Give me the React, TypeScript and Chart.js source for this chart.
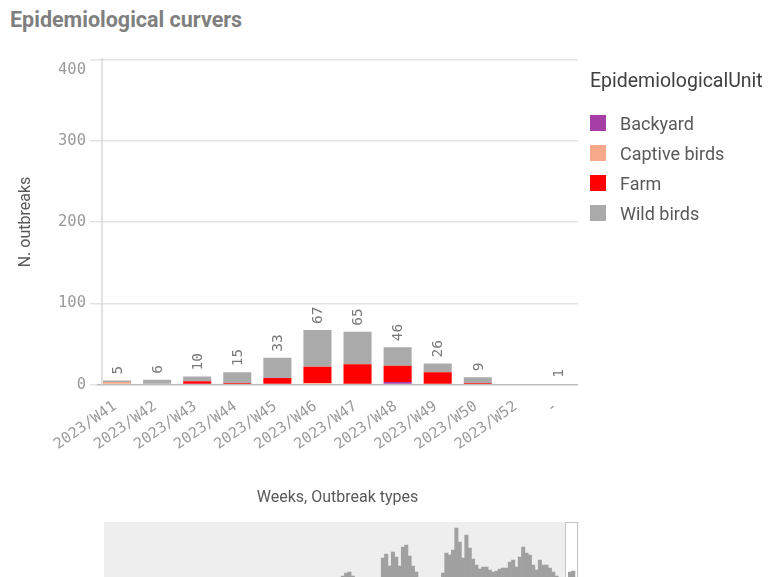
import React, { useEffect, useRef } from 'react';
import { Chart, registerables } from 'chart.js';

Chart.register(...registerables);

// ---- Main chart data ----
const weeks = ['2023/W41', '2023/W42', '2023/W43', '2023/W44', '2023/W45', '2023/W46', '2023/W47', '2023/W48', '2023/W49', '2023/W50', '2023/W52', '-'];
const seriesNames = ['Backyard', 'Captive birds', 'Farm', 'Wild birds'];
const seriesColors = ['#a53fa5', '#f8a88a', '#ff0000', '#aaaaaa'];
const backyard = [0, 0, 0, 0, 0, 1, 0, 3, 0, 0, 0, 0];
const captiveBirds = [3, 0, 0, 0, 0, 1, 1, 0, 0, 0, 0, 0];
const farm = [0, 1, 4, 2, 8, 20, 24, 20, 15, 2, 0, 1];
const wildBirds = [2, 5, 6, 13, 25, 45, 40, 23, 11, 7, 0, 0];
const seriesData = [backyard, captiveBirds, farm, wildBirds];
const yTickValues = [0, 100, 200, 300, 400];

// ---- Mini overview (scroll bar) data: bins of 3 weeks ----
const miniBinCount = 142;
const miniStartBin = 71;
const miniVisibleBins = 4;
const miniValues = [
  26, 29, 30, 26, 18, 15, 12, 14, 16, 15, 18, 22, 44, 48, 36, 50, 45, 36, 55, 57,
  46, 36, 30, 24, 20, 18, 17, 18, 20, 22, 29, 49, 47, 52, 74, 60, 44, 67, 54, 43,
  37, 33, 35, 35, 32, 30, 31, 33, 34, 34, 40, 42, 35, 45, 55, 49, 47, 37, 32, 42,
  37, 37, 34, 30, 26, 20, 18, 20, 30, 31, 22,
];

const MONO = '"DejaVu Sans Mono", monospace';
const SANS = 'Roboto, "Noto Sans", sans-serif';

const decorPlugin = {
  id: 'decor',
  afterDraw(chart: any) {
    const { ctx, chartArea } = chart;
    const y = chart.scales.y;
    ctx.save();
    // y axis line
    ctx.strokeStyle = '#d9d9d9';
    ctx.lineWidth = 1.5;
    ctx.beginPath();
    ctx.moveTo(chartArea.left + 5, chartArea.top - 1.5);
    ctx.lineTo(chartArea.left + 5, chartArea.bottom);
    ctx.stroke();
    // y tick labels
    ctx.font = `15.5px ${MONO}`;
    ctx.fillStyle = '#9a9a9a';
    ctx.textAlign = 'right';
    ctx.textBaseline = 'middle';
    const labelRight = y.right - 7 - 4;
    yTickValues.forEach((v) => {
      let py = y.getPixelForValue(v);
      if (v === y.max) py += 10;
      ctx.fillText(String(v), labelRight, py);
    });
    ctx.restore();
  },
  afterDatasetsDraw(chart: any) {
    const { ctx } = chart;
    const x = chart.scales.x;
    const y = chart.scales.y;
    ctx.save();
    ctx.font = `14.5px ${MONO}`;
    ctx.fillStyle = '#777777';
    ctx.textAlign = 'left';
    ctx.textBaseline = 'middle';
    weeks.forEach((_, i) => {
      const total = seriesData.reduce((s, arr) => s + arr[i], 0);
      if (!total) return;
      const px = x.getPixelForValue(i);
      const py = y.getPixelForValue(total);
      ctx.save();
      ctx.translate(px + 1, py - 6);
      ctx.rotate(-Math.PI / 2);
      ctx.fillText(String(total), 0, 0);
      ctx.restore();
    });
    ctx.restore();
  },
};

const miniBgPlugin = {
  id: 'miniBg',
  beforeDatasetsDraw(chart: any) {
    const { ctx, chartArea } = chart;
    const x = chart.scales.x;
    ctx.save();
    ctx.fillStyle = '#eeeeee';
    ctx.fillRect(chartArea.left, chartArea.top, chartArea.right - chartArea.left, chartArea.bottom - chartArea.top);
    const x0 = x.getPixelForValue(miniBinCount - miniVisibleBins);
    ctx.fillStyle = '#ffffff';
    ctx.fillRect(x0, chartArea.top, chartArea.right - x0, chartArea.bottom - chartArea.top);
    ctx.strokeStyle = '#c4c4c4';
    ctx.lineWidth = 1;
    ctx.strokeRect(Math.round(x0) + 0.5, chartArea.top + 0.5, Math.round(chartArea.right - x0) - 1, chartArea.bottom - chartArea.top + 10);
    ctx.restore();
  },
};

export default function App() {
  const mainRef = useRef<HTMLCanvasElement>(null);
  const miniRef = useRef<HTMLCanvasElement>(null);

  useEffect(() => {
    const main = new Chart(mainRef.current as HTMLCanvasElement, {
      type: 'bar',
      data: {
        labels: weeks,
        datasets: seriesNames.map((name, k) => ({
          label: name,
          data: seriesData[k],
          backgroundColor: seriesColors[k],
          borderWidth: 0,
          categoryPercentage: 0.7,
          barPercentage: 1,
        })),
      },
      options: {
        responsive: false,
        animation: false,
        layout: { padding: { left: 0, right: 205, top: 59.5, bottom: 0 } },
        plugins: { legend: { display: false }, tooltip: { enabled: false } },
        scales: {
          x: {
            stacked: true,
            grid: { display: false, drawTicks: false },
            border: { display: false },
            ticks: {
              autoSkip: false,
              minRotation: 35,
              maxRotation: 35,
              padding: 13,
              labelOffset: -2,
              color: '#9a9a9a',
              font: { family: MONO, size: 15 },
            },
            title: {
              display: true,
              text: 'Weeks, Outbreak types',
              color: '#595959',
              font: { family: SANS, size: 16 },
              padding: { top: 0, bottom: 2 },
            },
            afterFit: (s: any) => {
              s.height = 125.5;
            },
          },
          y: {
            stacked: true,
            min: 0,
            max: 400,
            ticks: { stepSize: 100, display: false },
            grid: {
              color: (c: any) => (c.tick && c.tick.value === 0 ? '#bdbdbd' : '#e3e3e3'),
              tickColor: '#e3e3e3',
              tickLength: 7,
              lineWidth: 1.5,
            },
            border: { display: false },
            title: {
              display: true,
              text: 'N. outbreaks',
              color: '#595959',
              font: { family: SANS, size: 16 },
              padding: { top: 16, bottom: 0 },
            },
            afterFit: (s: any) => {
              s.width = 97;
            },
          },
        },
      },
      plugins: [decorPlugin],
    } as any);

    const mini = new Chart(miniRef.current as HTMLCanvasElement, {
      type: 'bar',
      data: {
        datasets: [
          {
            data: miniValues.map((v, i) => ({ x: miniStartBin + i + 0.5, y: v })),
            backgroundColor: '#a0a0a0',
            borderWidth: 0,
            barPercentage: 1,
            categoryPercentage: 1,
          },
        ],
      },
      options: {
        responsive: false,
        animation: false,
        layout: { padding: { left: 104, right: 204.7, top: 4, bottom: 0 } },
        plugins: { legend: { display: false }, tooltip: { enabled: false } },
        scales: {
          x: { type: 'linear', min: 0, max: miniBinCount, offset: false, display: false },
          y: { min: 0, max: 80, display: false },
        },
      },
      plugins: [miniBgPlugin],
    } as any);

    return () => {
      main.destroy();
      mini.destroy();
    };
  }, []);

  return (
    <div
      style={{
        position: 'fixed',
        left: 0,
        top: 0,
        width: 783,
        height: 577,
        overflow: 'hidden',
        background: '#ffffff',
      }}
    >
      <div
        style={{
          position: 'absolute',
          left: 10,
          top: 9,
          fontFamily: SANS,
          fontWeight: 700,
          fontSize: 21.5,
          lineHeight: '21px',
          color: '#7f7f7f',
          whiteSpace: 'nowrap',
        }}
      >
        Epidemiological curvers
      </div>
      <canvas
        ref={mainRef}
        width={783}
        height={510}
        style={{ position: 'absolute', left: 0, top: 0, width: 783, height: 510 }}
      />
      <canvas
        ref={miniRef}
        width={783}
        height={84}
        style={{ position: 'absolute', left: 0, top: 518, width: 783, height: 84 }}
      />
      <div
        style={{
          position: 'absolute',
          left: 590,
          top: 71,
          fontFamily: SANS,
          fontSize: 19.5,
          lineHeight: '20px',
          color: '#404040',
          whiteSpace: 'nowrap',
        }}
      >
        EpidemiologicalUnit
      </div>
      {seriesNames.map((name, k) => (
        <div key={name} style={{ position: 'absolute', left: 590, top: 115 + 30 * k, height: 16 }}>
          <div style={{ position: 'absolute', left: 0, top: 0, width: 16, height: 16, background: seriesColors[k] }} />
          <div
            style={{
              position: 'absolute',
              left: 30,
              top: 1,
              fontFamily: SANS,
              fontSize: 18,
              lineHeight: '16px',
              color: '#595959',
              whiteSpace: 'nowrap',
            }}
          >
            {name}
          </div>
        </div>
      ))}
    </div>
  );
}
